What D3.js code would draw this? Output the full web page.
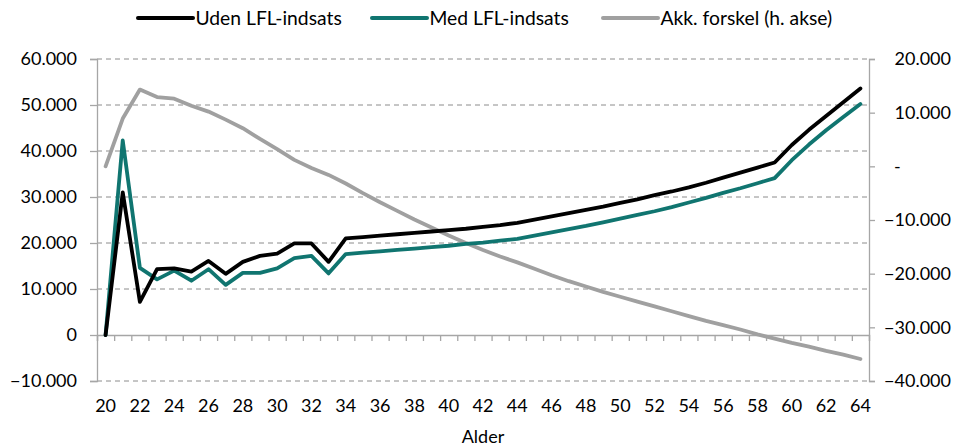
<!DOCTYPE html>
<html>
<head>
<meta charset="utf-8">
<script src="https://cdn.jsdelivr.net/npm/d3@7"></script>
<style>
  html, body { margin: 0; padding: 0; background: #fff; }
  svg { display: block; font-family: Lato, "Open Sans", sans-serif; }
</style>
</head>
<body>
<svg id="chart" width="957" height="447"></svg>
<script>
const ages = d3.range(20, 65);
const udenLFL = [0, 31.0, 7.2, 14.3, 14.5, 13.8, 16.1, 13.3, 15.9, 17.2, 17.7, 19.9, 19.9, 15.9, 21.0,
  21.3, 21.6, 21.9, 22.2, 22.5, 22.8, 23.1, 23.5, 23.9, 24.4,
  25.1, 25.8, 26.5, 27.2, 27.9, 28.7, 29.5, 30.4, 31.2, 32.1,
  33.1, 34.2, 35.3, 36.4, 37.5, 41.3, 44.6, 47.6, 50.6, 53.6].map(v => v * 1000);
const medLFL = [0, 42.3, 14.6, 12.1, 14.0, 11.8, 14.3, 10.9, 13.5, 13.5, 14.5, 16.7, 17.2, 13.4, 17.6,
  17.9, 18.2, 18.5, 18.8, 19.1, 19.4, 19.8, 20.1, 20.5, 20.9,
  21.6, 22.3, 23.0, 23.7, 24.5, 25.3, 26.1, 26.9, 27.8, 28.8,
  29.8, 30.9, 31.9, 33.0, 34.1, 38.0, 41.4, 44.5, 47.4, 50.2].map(v => v * 1000);
const akkForskel = [0, 8.9, 14.3, 12.9, 12.6, 11.3, 10.2, 8.7, 7.1, 5.1, 3.2, 1.2, -0.3, -1.6, -3.2,
  -5.0, -6.7, -8.3, -9.9, -11.4, -12.9, -14.3, -15.6, -16.8, -17.9,
  -19.1, -20.3, -21.4, -22.4, -23.4, -24.3, -25.2, -26.1, -27.0, -27.9,
  -28.8, -29.6, -30.4, -31.3, -32.1, -32.9, -33.6, -34.4, -35.1, -35.9].map(v => v * 1000);
const leftTicks = [-10000, 0, 10000, 20000, 30000, 40000, 50000, 60000];
const rightTicks = [-40000, -30000, -20000, -10000, 0, 10000, 20000];
const xLabels = d3.range(20, 65, 2);
const seriesNames = ["Uden LFL-indsats", "Med LFL-indsats", "Akk. forskel (h. akse)"];
const colors = ["#000000", "#107570", "#a0a0a0"];

const svg = d3.select("#chart");
const pLeft = 97, pRight = 869, pTop = 59, pBottom = 381;
const fs = 18;

const x = d3.scaleBand().domain(ages).range([pLeft, pRight]).padding(0);
const xb = d3.scaleLinear().domain([0, ages.length]).range([pLeft, pRight]);
const yL = d3.scaleLinear().domain([-10000, 60000]).range([pBottom, pTop]);
const yR = d3.scaleLinear().domain([-40000, 20000]).range([pBottom, pTop]);
const fmt = v => d3.format(",")(v).replace(/,/g, ".");

// gridlines
svg.append("g").selectAll("line").data(leftTicks.filter(v => v !== 0)).join("line")
  .attr("x1", pLeft).attr("x2", pRight)
  .attr("y1", d => yL(d)).attr("y2", d => yL(d))
  .attr("stroke", "#8c8c8c").attr("stroke-width", 1).attr("stroke-dasharray", "5,4");

const axisColor = "#a6a6a6";
// left axis
const gL = svg.append("g").attr("transform", `translate(${pLeft},0)`)
  .call(d3.axisLeft(yL).tickValues(leftTicks).tickSize(7).tickPadding(13).tickFormat(fmt));
// right axis
const gR = svg.append("g").attr("transform", `translate(${pRight},0)`)
  .call(d3.axisRight(yR).tickValues(rightTicks).tickSize(6).tickPadding(13)
    .tickFormat(v => v === 0 ? "-" : fmt(v)));
[gL, gR].forEach(g => {
  g.select(".domain").attr("stroke", axisColor).attr("stroke-width", 1.3);
  g.selectAll(".tick line").attr("stroke", axisColor).attr("stroke-width", 1.3);
  g.selectAll("text").attr("font-size", fs).attr("fill", "#000").attr("font-family", "Lato, sans-serif");
});
gR.selectAll(".tick text").attr("text-anchor", "end").attr("x", 82);
gR.selectAll(".tick").filter(d => d === 0).select("text").attr("text-anchor", "start").attr("x", 25);

// x axis line with ticks between categories
const gX = svg.append("g").attr("transform", `translate(0,${yL(0)})`)
  .call(d3.axisBottom(xb).tickValues(d3.range(0, ages.length + 1)).tickSize(6).tickFormat(""));
gX.select(".domain").attr("stroke", axisColor).attr("stroke-width", 1.3);
gX.selectAll(".tick line").attr("stroke", axisColor).attr("stroke-width", 1.3);

// x labels (low position)
const gXL = svg.append("g").attr("transform", `translate(0,399)`)
  .call(d3.axisBottom(x).tickValues(xLabels).tickSize(0).tickPadding(0));
gXL.select(".domain").remove();
gXL.selectAll("text").attr("font-size", fs).attr("fill", "#000").attr("font-family", "Lato, sans-serif");

svg.append("text").attr("x", (pLeft + pRight) / 2).attr("y", 443)
  .attr("text-anchor", "middle").attr("font-size", fs).text("Alder");

// lines
const cx = a => x(a) + x.bandwidth() / 2;
const lineL = d3.line().x((d, i) => cx(ages[i])).y(d => yL(d));
const lineR = d3.line().x((d, i) => cx(ages[i])).y(d => yR(d));
svg.append("path").datum(akkForskel).attr("d", lineR)
  .attr("fill", "none").attr("stroke", colors[2]).attr("stroke-width", 3.8).attr("stroke-linejoin", "round").attr("stroke-linecap", "round");
svg.append("path").datum(medLFL).attr("d", lineL)
  .attr("fill", "none").attr("stroke", colors[1]).attr("stroke-width", 3.8).attr("stroke-linejoin", "round").attr("stroke-linecap", "round");
svg.append("path").datum(udenLFL).attr("d", lineL)
  .attr("fill", "none").attr("stroke", colors[0]).attr("stroke-width", 3.8).attr("stroke-linejoin", "round").attr("stroke-linecap", "round");

// legend
const legendX = [138, 372, 603];
const lg = svg.append("g").selectAll("g").data(seriesNames).join("g")
  .attr("transform", (d, i) => `translate(${legendX[i]},18)`);
lg.append("line").attr("x1", 0).attr("x2", 55).attr("y1", 0).attr("y2", 0)
  .attr("stroke", (d, i) => colors[i]).attr("stroke-width", 4).attr("stroke-linecap", "round");
lg.append("text").attr("x", 57.5).attr("y", 0).attr("dy", "0.35em")
  .attr("font-size", 19.3).text(d => d);
</script>
</body>
</html>
